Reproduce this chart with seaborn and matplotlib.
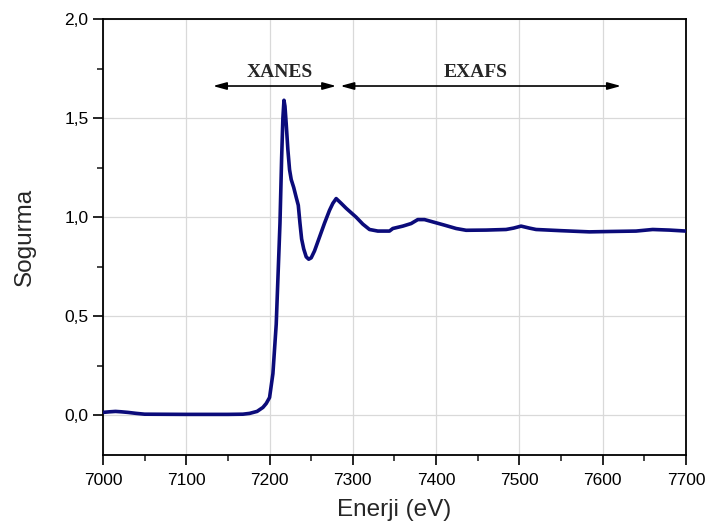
import matplotlib
matplotlib.use("Agg")
import matplotlib.pyplot as plt
import matplotlib.ticker as mticker
import seaborn as sns
import pandas as pd

energy = [7000, 7008, 7015, 7022, 7030, 7040, 7050, 7100, 7150, 7168, 7176, 7185, 7192,
          7196, 7200, 7204, 7208, 7212.5, 7214.5, 7216, 7217.3, 7218.5, 7220, 7222,
          7224, 7226, 7229, 7232, 7234.5, 7236.5, 7238.5, 7241, 7244, 7247, 7250,
          7254, 7260, 7266, 7272, 7276, 7280, 7286, 7292, 7304, 7312, 7320, 7330,
          7344, 7348, 7360, 7370, 7378, 7386, 7392, 7410, 7424, 7436, 7460, 7484,
          7493, 7502, 7512, 7520, 7550, 7584, 7610, 7640, 7660, 7680, 7700]
absorb = [0.015, 0.018, 0.02, 0.018, 0.015, 0.01, 0.006, 0.005, 0.005, 0.006, 0.01, 0.02, 0.04,
          0.06, 0.09, 0.21, 0.46, 0.97, 1.30, 1.50, 1.59, 1.56, 1.47, 1.34,
          1.24, 1.19, 1.15, 1.10, 1.06, 0.97, 0.89, 0.84, 0.80, 0.788, 0.795,
          0.83, 0.90, 0.97, 1.035, 1.07, 1.094, 1.07, 1.045, 1.00, 0.965, 0.938, 0.93,
          0.93, 0.943, 0.955, 0.968, 0.988, 0.988, 0.981, 0.96, 0.943, 0.934, 0.935, 0.938,
          0.945, 0.955, 0.945, 0.938, 0.932, 0.926, 0.928, 0.93, 0.938, 0.935, 0.93]

regions = ["XANES", "EXAFS"]
region_start = [7132, 7285]
region_end = [7280, 7622]
region_y = 1.662
label_y = 1.73

df = pd.DataFrame({"Enerji": energy, "Sogurma": absorb})

sns.set_style("white")
plt.rcParams["font.family"] = ["Liberation Sans", "DejaVu Sans"]

fig = plt.figure(figsize=(7.05, 5.27), dpi=100)
ax = fig.add_axes([0.1461, 0.1366, 0.9730 - 0.1461, 0.9639 - 0.1366])

sns.lineplot(data=df, x="Enerji", y="Sogurma", ax=ax, color="#0b0b7a", linewidth=2.6,
             zorder=3)

ax.set_xlim(7000, 7700)
ax.set_ylim(-0.2, 2.0)
ax.xaxis.set_major_locator(mticker.MultipleLocator(100))
ax.xaxis.set_minor_locator(mticker.MultipleLocator(50))
ax.yaxis.set_major_locator(mticker.MultipleLocator(0.5))
ax.yaxis.set_minor_locator(mticker.MultipleLocator(0.25))
ax.yaxis.set_major_formatter(mticker.FuncFormatter(lambda v, p: f"{v:.1f}".replace(".", ",")))
ax.xaxis.set_major_formatter(mticker.FuncFormatter(lambda v, p: f"{v:.0f}"))

ax.grid(True, which="major", color="#d9d9d9", linewidth=0.9, zorder=0)
ax.set_axisbelow(True)
for s in ax.spines.values():
    s.set_visible(True)
    s.set_color("black")
    s.set_linewidth(1.3)

ax.tick_params(which="major", direction="out", length=7, width=1.2, labelsize=12.5,
               colors="black", left=True, bottom=True)
ax.tick_params(which="minor", direction="out", length=4, width=1.2, left=True, bottom=True)
ax.tick_params(axis="x", which="major", pad=6)

ax.set_xlabel("Enerji (eV)", fontsize=17.5, labelpad=8)
ax.set_ylabel("Sogurma", fontsize=17.5, labelpad=20)

for name, x0, x1 in zip(regions, region_start, region_end):
    ax.annotate("", xy=(x1, region_y), xytext=(x0, region_y),
                arrowprops=dict(arrowstyle="<|-|>,head_length=0.8,head_width=0.22",
                                color="black", lw=1.2, shrinkA=0, shrinkB=0))
ax.text(7212, label_y, regions[0], ha="center", va="center", fontsize=14,
        fontweight="bold", family=["Liberation Serif", "DejaVu Serif"])
ax.text(7448, label_y, regions[1], ha="center", va="center", fontsize=14,
        fontweight="bold", family=["Liberation Serif", "DejaVu Serif"])

fig.savefig("out.png", dpi=100)
